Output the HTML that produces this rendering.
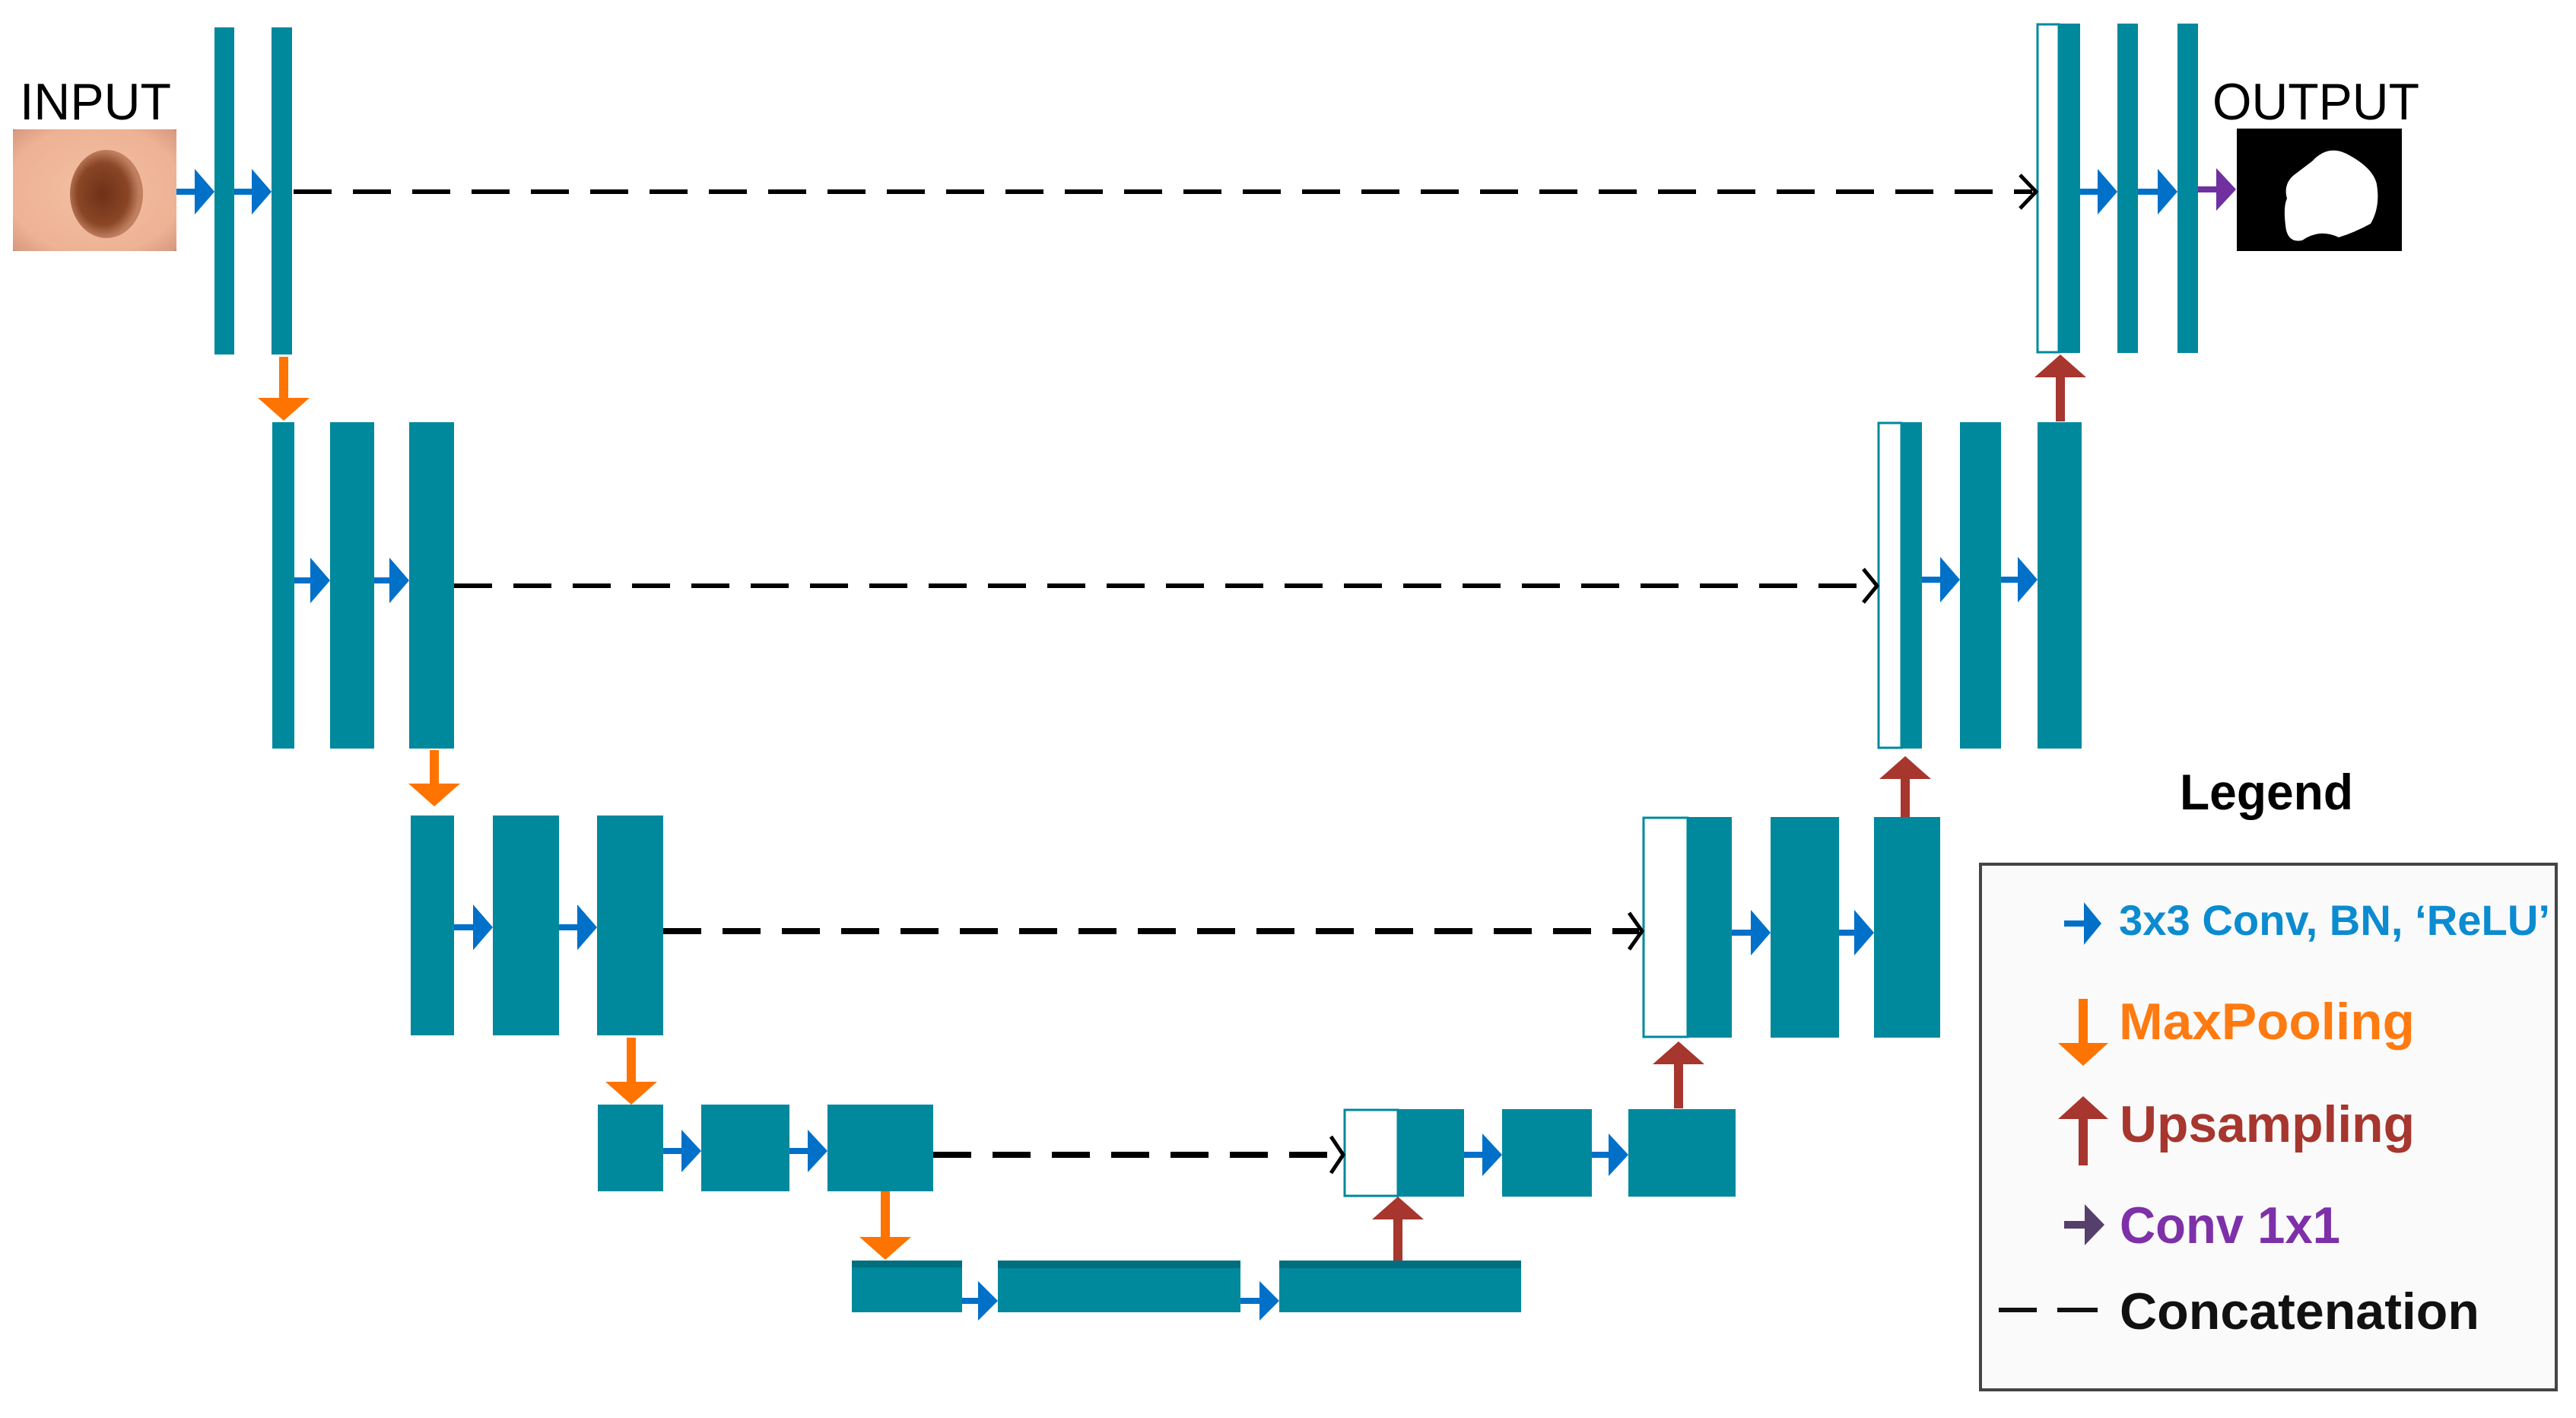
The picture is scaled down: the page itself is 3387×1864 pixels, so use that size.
<!DOCTYPE html>
<html><head><meta charset="utf-8"><style>
html,body{margin:0;padding:0;background:#fff;}
svg{display:block;}
text{font-family:"Liberation Sans",sans-serif;}
</style></head><body>
<svg width="3387" height="1864" viewBox="0 0 3387 1864" xmlns="http://www.w3.org/2000/svg">
<defs>
<radialGradient id="skin" cx="50%" cy="50%" r="75%">
<stop offset="0" stop-color="#f2c0a4"/><stop offset="0.7" stop-color="#eeb294"/><stop offset="0.92" stop-color="#d89a80"/><stop offset="1" stop-color="#4a3530"/>
</radialGradient>
<radialGradient id="mole" cx="45%" cy="50%" r="50%">
<stop offset="0" stop-color="#6e3018"/><stop offset="0.7" stop-color="#8a4626"/><stop offset="1" stop-color="#c08060"/>
</radialGradient>
</defs>
<g fill="#00889c">
<rect x="282" y="36" width="26" height="430"/><rect x="357" y="36" width="27" height="430"/>
<rect x="358" y="555" width="29" height="429"/><rect x="434" y="555" width="58" height="429"/><rect x="538" y="555" width="59" height="429"/>
<rect x="540" y="1072" width="57" height="289"/><rect x="648" y="1072" width="87" height="289"/><rect x="785" y="1072" width="87" height="289"/>
<rect x="786" y="1452" width="86" height="114"/><rect x="922" y="1452" width="116" height="114"/><rect x="1088" y="1452" width="139" height="114"/>
<rect x="1120" y="1657" width="145" height="68"/><rect x="1312" y="1657" width="319" height="68"/><rect x="1682" y="1657" width="318" height="68"/>
<rect x="1838" y="1458" width="87" height="115"/><rect x="1975" y="1458" width="118" height="115"/><rect x="2141" y="1458" width="141" height="115"/>
<rect x="2219" y="1074" width="58" height="290"/><rect x="2328" y="1074" width="90" height="290"/><rect x="2464" y="1074" width="87" height="290"/>
<rect x="2500" y="555" width="27" height="429"/><rect x="2577" y="555" width="54" height="429"/><rect x="2679" y="555" width="58" height="429"/>
<rect x="2707" y="31" width="28" height="433"/><rect x="2784" y="31" width="27" height="433"/><rect x="2863" y="31" width="27" height="433"/>
</g>
<g fill="#006e7e"><rect x="1120" y="1657" width="145" height="9"/><rect x="1312" y="1657" width="319" height="10"/><rect x="1682" y="1657" width="318" height="10"/></g>
<g fill="#fff" stroke="#00889c" stroke-width="3">
<rect x="2679" y="32" width="28" height="431"/>
<rect x="2470" y="556" width="30" height="427"/>
<rect x="2161" y="1075" width="58" height="288"/>
<rect x="1768" y="1459" width="70" height="113"/>
</g>
<g stroke="#000" stroke-width="6" stroke-dasharray="50,28" fill="none">
<line x1="386" y1="252" x2="2672" y2="252"/>
<line x1="597" y1="770" x2="2462" y2="770"/>
</g>
<g stroke="#000" stroke-width="8" stroke-dasharray="50,28" fill="none">
<line x1="872" y1="1224" x2="2155" y2="1224"/>
<line x1="1227" y1="1518" x2="1762" y2="1518"/>
</g>
<g stroke="#000" stroke-width="5" fill="none">
<polyline points="2656,230 2677,252 2656,274"/>
<polyline points="2450,748 2468,770 2450,792"/>
<polyline points="2142,1200 2159,1224 2142,1248"/>
<polyline points="1750,1494 1766,1518 1750,1542"/>
</g>
<g fill="#0070c8" stroke="none">
<path d="M232 248h24v-26l26 30-26 30v-26h-24z"/>
<path d="M308 248h23v-26l26 30-26 30v-26h-23z"/>
<path d="M387 759h21v-26l26 30-26 30v-26h-21z"/>
<path d="M492 759h20v-26l26 30-26 30v-26h-20z"/>
<path d="M597 1215h25v-26l26 30-26 30v-26h-25z"/>
<path d="M735 1215h24v-26l26 30-26 30v-26h-24z"/>
<path d="M872 1509h24v-24l26 28-26 28v-24h-24z"/>
<path d="M1038 1509h24v-24l26 28-26 28v-24h-24z"/>
<path d="M1265 1706h21v-22l26 26-26 26v-22h-21z"/>
<path d="M1631 1706h25v-22l26 26-26 26v-22h-25z"/>
<path d="M1925 1514h24v-24l26 28-26 28v-24h-24z"/>
<path d="M2093 1514h22v-24l26 28-26 28v-24h-22z"/>
<path d="M2277 1222h25v-26l26 30-26 30v-26h-25z"/>
<path d="M2418 1222h20v-26l26 30-26 30v-26h-20z"/>
<path d="M2527 758h24v-26l26 30-26 30v-26h-24z"/>
<path d="M2631 758h22v-26l26 30-26 30v-26h-22z"/>
<path d="M2735 248h23v-26l26 30-26 30v-26h-23z"/>
<path d="M2811 248h26v-26l26 30-26 30v-26h-26z"/>
</g>
<path d="M2890 245h24v-24l26 28-26 28v-24h-24z" fill="#7030a0"/>
<g fill="#ff7300">
<path d="M367 469h12v54h28l-34 30-34-30h28z"/>
<path d="M565 986h12v44h28l-34 30-34-30h28z"/>
<path d="M824 1364h12v58h28l-34 30-34-30h28z"/>
<path d="M1158 1566h12v60h28l-34 30-34-30h28z"/>
</g>
<g fill="#a6362e">
<path d="M1832 1657h12v-54h28l-34-30-34 30h28z"/>
<path d="M2201 1457h12v-58h28l-34-30-34 30h28z"/>
<path d="M2499 1074h12v-50h28l-34-30-34 30h28z"/>
<path d="M2703 554h12v-58h28l-34-30-34 30h28z"/>
</g>
<text x="26" y="157" font-size="68" fill="#000" textLength="199" lengthAdjust="spacingAndGlyphs">INPUT</text>
<rect x="17" y="170" width="215" height="160" fill="url(#skin)"/>
<ellipse cx="140" cy="255" rx="48" ry="58" fill="url(#mole)"/>
<text x="2909" y="157" font-size="68" fill="#000" textLength="272" lengthAdjust="spacingAndGlyphs">OUTPUT</text>
<rect x="2941" y="169" width="217" height="161" fill="#000"/>
<path d="M3040 212 q20-22 45-10 q35 18 40 40 q5 30-8 52 q-22 12-42 18 q-25-12-48 4 q-20 4-22-20 q-3-25 2-35 q-5-18 8-30 z" fill="#fff"/>
<text x="2866" y="1064" font-size="66" font-weight="bold" fill="#000" textLength="228" lengthAdjust="spacingAndGlyphs">Legend</text>
<rect x="2604" y="1136" width="757" height="691" fill="#fafafa" stroke="#444" stroke-width="4"/>
<path d="M2714 1210h26v-24l23 28-23 28v-24h-26z" fill="#0070c8"/>
<text x="2786" y="1229" font-size="56" font-weight="bold" fill="#0b8bd0" textLength="567" lengthAdjust="spacingAndGlyphs">3x3 Conv, BN, ‘ReLU’</text>
<path d="M2733 1313h12v58h27l-33 30-33-30h27z" fill="#ff7300"/>
<text x="2786" y="1366" font-size="68" font-weight="bold" fill="#ff7a10" textLength="389" lengthAdjust="spacingAndGlyphs">MaxPooling</text>
<path d="M2733 1532h12v-61h27l-33-30-33 30h27z" fill="#a6362e"/>
<text x="2787" y="1501" font-size="68" font-weight="bold" fill="#a6362e" textLength="388" lengthAdjust="spacingAndGlyphs">Upsampling</text>
<path d="M2714 1605h27v-22l26 27-26 27v-22h-27z" fill="#553f6b"/>
<text x="2787" y="1634" font-size="68" font-weight="bold" fill="#7d30a8" textLength="290" lengthAdjust="spacingAndGlyphs">Conv 1x1</text>
<g stroke="#111" stroke-width="6"><line x1="2628" y1="1722" x2="2678" y2="1722"/><line x1="2705" y1="1722" x2="2758" y2="1722"/></g>
<text x="2787" y="1747" font-size="68" font-weight="bold" fill="#111" textLength="473" lengthAdjust="spacingAndGlyphs">Concatenation</text>
</svg>
</body></html>
